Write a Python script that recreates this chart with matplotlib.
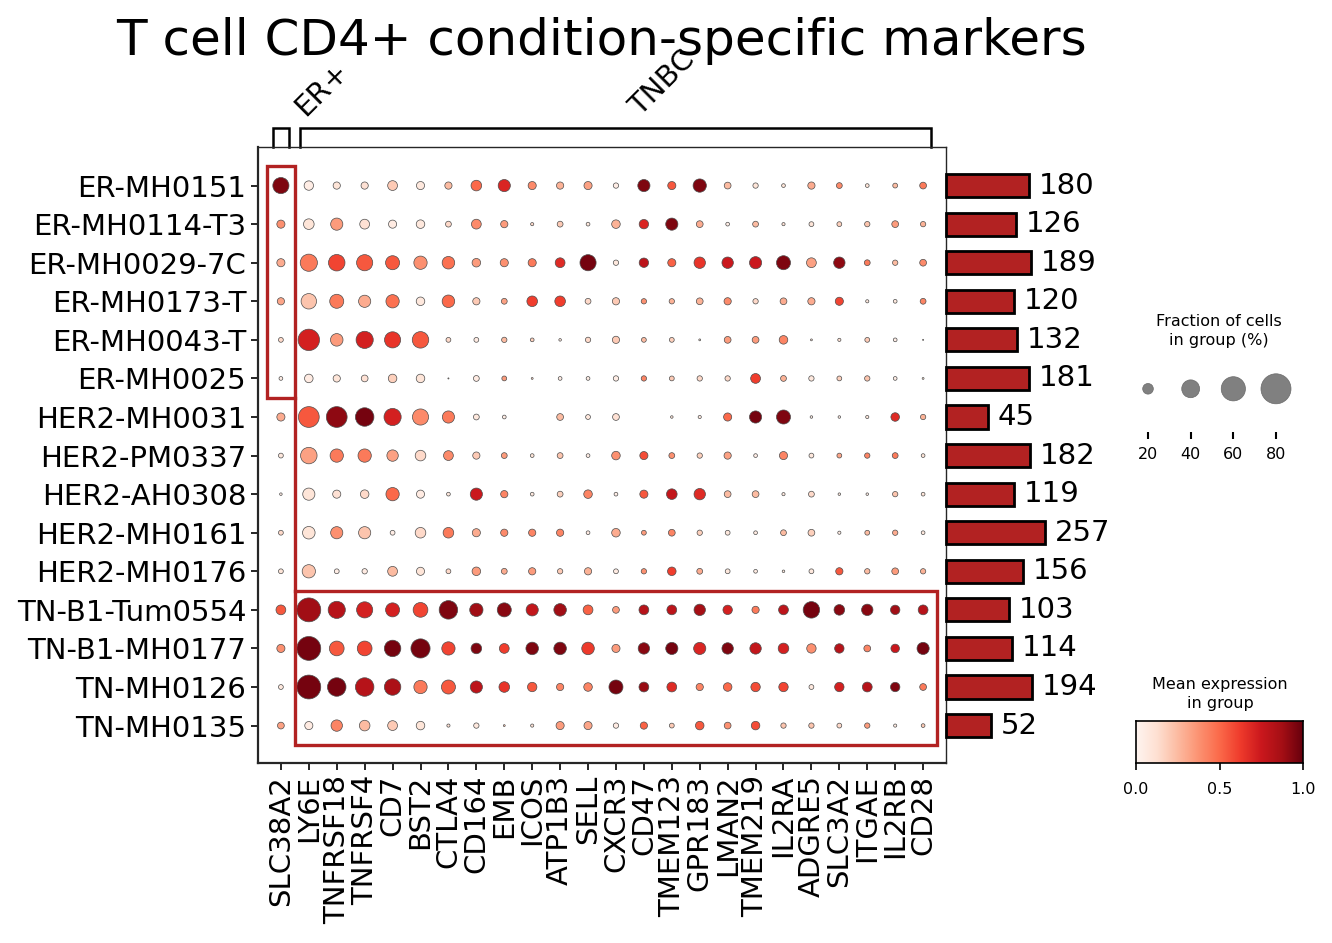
import numpy as np
import matplotlib
matplotlib.use("Agg")
import matplotlib.pyplot as plt
from matplotlib.patches import Rectangle

# ---- data ----
samples = ["ER-MH0151", "ER-MH0114-T3", "ER-MH0029-7C", "ER-MH0173-T", "ER-MH0043-T",
           "ER-MH0025", "HER2-MH0031", "HER2-PM0337", "HER2-AH0308", "HER2-MH0161",
           "HER2-MH0176", "TN-B1-Tum0554", "TN-B1-MH0177", "TN-MH0126", "TN-MH0135"]
genes = ["SLC38A2", "LY6E", "TNFRSF18", "TNFRSF4", "CD7", "BST2", "CTLA4", "CD164",
         "EMB", "ICOS", "ATP1B3", "SELL", "CXCR3", "CD47", "TMEM123", "GPR183", "LMAN2",
         "TMEM219", "IL2RA", "ADGRE5", "SLC3A2", "ITGAE", "IL2RB", "CD28"]
group_names = ["ER+", "TNBC"]
group_ranges = [(0, 0), (1, 23)]
cell_counts = [180, 126, 189, 120, 132, 181, 45, 182, 119, 257, 156, 103, 114, 194, 52]

# fraction of cells expressing (%)
frac_pct = [
    [35, 17, 12, 12, 18, 14, 12, 20, 24, 14, 12, 14, 8, 24, 14, 27, 11, 8, 5, 12, 9, 5, 7, 11],
    [14, 20, 24, 18, 14, 15, 9, 18, 12, 4, 9, 5, 15, 17, 24, 11, 5, 9, 4, 7, 7, 8, 11, 8],
    [14, 38, 36, 35, 29, 27, 25, 15, 14, 14, 18, 35, 8, 17, 14, 22, 22, 24, 29, 18, 22, 9, 8, 11],
    [12, 33, 29, 24, 27, 15, 25, 12, 9, 20, 20, 9, 12, 8, 8, 11, 12, 8, 11, 12, 14, 4, 5, 9],
    [7, 51, 25, 38, 35, 36, 7, 7, 8, 5, 3, 8, 12, 7, 7, 2, 11, 11, 15, 2, 4, 7, 5, 1],
    [5, 15, 12, 11, 15, 15, 1, 9, 7, 2, 5, 5, 8, 8, 7, 8, 8, 18, 9, 8, 7, 8, 5, 2],
    [14, 49, 49, 42, 38, 35, 24, 9, 5, 0, 11, 7, 11, 0, 3, 4, 14, 24, 29, 3, 3, 4, 15, 8],
    [7, 36, 27, 27, 22, 20, 18, 12, 9, 5, 9, 5, 15, 14, 9, 8, 12, 5, 14, 7, 7, 8, 9, 5],
    [3, 24, 14, 15, 27, 14, 5, 24, 12, 5, 9, 15, 5, 14, 20, 22, 11, 11, 4, 9, 3, 3, 8, 5],
    [7, 25, 24, 24, 7, 20, 20, 14, 12, 12, 12, 5, 15, 7, 11, 8, 7, 5, 9, 11, 4, 7, 8, 5],
    [7, 27, 7, 8, 18, 14, 7, 15, 9, 12, 8, 12, 7, 8, 15, 9, 7, 5, 3, 7, 12, 8, 11, 8],
    [18, 59, 38, 35, 29, 31, 42, 27, 29, 24, 25, 18, 11, 18, 18, 22, 17, 12, 18, 36, 20, 22, 17, 18],
    [14, 59, 31, 31, 36, 44, 27, 20, 18, 25, 25, 25, 14, 22, 24, 24, 22, 22, 20, 17, 17, 11, 15, 24],
    [7, 59, 42, 42, 36, 27, 29, 24, 20, 17, 12, 15, 29, 18, 18, 12, 15, 17, 17, 7, 17, 18, 17, 11],
    [11, 14, 22, 20, 18, 15, 4, 8, 2, 4, 14, 14, 8, 12, 7, 15, 11, 15, 8, 8, 7, 8, 4, 5],
]

# scaled mean expression (0-1)
mean_expr = [
    [.95, .05, .10, .12, .20, .08, .25, .50, .70, .40, .28, .33, .05, .95, .55, .95, .25, .10, .10, .30, .40, .10, .25, .45],
    [.38, .10, .35, .12, .06, .08, .15, .40, .35, .15, .20, .08, .28, .70, .95, .30, .05, .25, .12, .10, .18, .22, .35, .28],
    [.30, .45, .60, .55, .55, .38, .48, .35, .38, .45, .68, .97, .08, .80, .52, .65, .75, .75, .95, .33, .92, .45, .25, .40],
    [.32, .22, .45, .30, .48, .08, .50, .20, .33, .62, .62, .15, .20, .38, .28, .28, .40, .15, .30, .30, .60, .08, .08, .42],
    [.15, .72, .35, .72, .65, .55, .15, .06, .25, .18, .08, .15, .20, .25, .18, .10, .35, .35, .42, .10, .12, .20, .05, .10],
    [.05, .06, .10, .12, .18, .10, .20, .06, .35, .15, .05, .05, .05, .42, .20, .15, .15, .62, .28, .08, .18, .22, .05, .10],
    [.30, .55, .92, .97, .72, .40, .45, .08, .05, .00, .25, .08, .12, .00, .10, .06, .50, .97, .95, .05, .05, .08, .68, .28],
    [.08, .33, .45, .45, .33, .15, .40, .20, .35, .10, .22, .05, .38, .58, .38, .18, .33, .05, .42, .08, .32, .42, .45, .10],
    [.05, .10, .12, .15, .50, .06, .08, .75, .42, .08, .18, .42, .05, .55, .78, .68, .25, .25, .08, .15, .08, .05, .22, .10],
    [.15, .10, .38, .22, .05, .15, .45, .30, .40, .42, .42, .06, .30, .35, .42, .18, .08, .06, .25, .18, .06, .25, .30, .08],
    [.10, .22, .05, .06, .25, .10, .15, .35, .30, .35, .20, .28, .06, .38, .62, .30, .08, .06, .08, .08, .55, .25, .35, .28],
    [.55, .88, .82, .72, .72, .60, .95, .88, .93, .78, .88, .52, .35, .82, .80, .87, .72, .45, .80, .97, .93, .93, .88, .82],
    [.38, .97, .55, .60, .97, .97, .60, .95, .62, .95, .95, .63, .35, .93, .97, .70, .95, .78, .72, .38, .82, .42, .76, .97],
    [.08, .97, .97, .82, .85, .45, .55, .80, .65, .55, .42, .42, .97, .90, .68, .42, .50, .58, .60, .08, .72, .82, .95, .45],
    [.33, .06, .42, .25, .20, .10, .12, .08, .20, .12, .35, .32, .06, .52, .20, .55, .38, .58, .22, .22, .15, .35, .06, .20],
]
legend_fracs = [20, 40, 60, 80]

# ---- layout helpers (pixel based) ----
W, H, DPI = 1332, 943, 100
fig = plt.figure(figsize=(W / DPI, H / DPI), dpi=DPI)


def box(l, t, r, b):
    return [l / W, 1 - b / H, (r - l) / W, (b - t) / H]


def dot_size(f):
    # marker area in pt^2; diameter in px scales like frac**0.75
    d_px = 30.0 * (np.asarray(f, dtype=float) / 80.0) ** 0.75
    return (d_px * 72.0 / DPI) ** 2


FS = 21
SMALL = 11.5
RED = "#b22222"

# ---- main dot plot ----
ax = fig.add_axes(box(258, 147, 946, 763))
frac = np.array(frac_pct, dtype=float)
expr = np.array(mean_expr)
yy, xx = np.mgrid[0:len(samples), 0:len(genes)]
mask = frac > 0
ax.scatter(xx[mask], yy[mask], s=dot_size(frac[mask]), c=expr[mask], cmap="Reds",
           vmin=0, vmax=1, edgecolors="0.3", linewidths=0.5, zorder=3)
ax.set_xlim(-0.82, len(genes) - 1 + 0.82)
ax.set_ylim(len(samples) - 1 + 0.97, -1.0)
ax.set_xticks(range(len(genes)))
ax.set_xticklabels(genes, rotation=90, fontsize=FS)
ax.set_yticks(range(len(samples)))
ax.set_yticklabels(samples, fontsize=FS)
ax.tick_params(length=5, width=1.2, pad=3.5)
for sp in ax.spines.values():
    sp.set_color("0.15")
    sp.set_linewidth(1.0)
ax.spines["left"].set_linewidth(1.6)
ax.spines["bottom"].set_linewidth(1.6)

# highlight boxes
ax.add_patch(Rectangle((-0.5, -0.5), 1.0, 6.0, fill=False, ec=RED, lw=2.4, zorder=4))
ax.add_patch(Rectangle((0.5, 10.5), 23.0, 4.0, fill=False, ec=RED, lw=2.4, zorder=4))
ax.plot([0.5, 0.5], [5.5, 10.5], color=RED, lw=2.4, zorder=4)

# gene group brackets
for name, (g0, g1) in zip(group_names, group_ranges):
    bx = [g0 - 0.3, g0 - 0.3, g1 + 0.3, g1 + 0.3]
    by = [-1.0, -1.5, -1.5, -1.0]
    ax.plot(bx, by, color="black", lw=1.8, clip_on=False, solid_joinstyle="miter")
    ax.text((g0 + g1) / 2 + 0.85, -1.78, name, rotation=45, rotation_mode="anchor",
            ha="left", va="baseline", fontsize=FS)

# ---- cell counts bars ----
axb = fig.add_axes(box(946, 147, 1046, 763))
axb.set_xscale("function", functions=(np.sqrt, np.square))
axb.barh(range(len(samples)), cell_counts, height=0.6, color=RED, edgecolor="black",
         lw=2, clip_on=False)
axb.set_xlim(0, 260)
axb.set_ylim(len(samples) - 1 + 0.97, -1.0)
for i, v in enumerate(cell_counts):
    axb.annotate(str(v), (v, i), xytext=(7, 0), textcoords="offset points",
                 va="center", ha="left", fontsize=FS, annotation_clip=False)
axb.axis("off")

# ---- size legend ----
axs = fig.add_axes(box(1126, 360, 1298, 432))
axs.scatter(range(len(legend_fracs)), [0.6] * len(legend_fracs), s=dot_size(legend_fracs),
            color="gray", edgecolors="dimgray", linewidths=0.5)
axs.set_xlim(-0.516, 3.516)
axs.set_ylim(0, 1)
axs.set_xticks(range(len(legend_fracs)))
axs.set_xticklabels([str(v) for v in legend_fracs], fontsize=SMALL)
axs.set_yticks([])
axs.tick_params(axis="x", length=5, width=1.5, pad=6)
for sp in axs.spines.values():
    sp.set_visible(False)
fig.text(1219 / W, 1 - 331 / H, "Fraction of cells\nin group (%)", ha="center",
         va="center", fontsize=SMALL, linespacing=1.35)

# ---- colorbar ----
axc = fig.add_axes(box(1136, 721, 1303, 763))
grad = np.linspace(0, 1, 256).reshape(1, -1)
axc.imshow(grad, aspect="auto", cmap="Reds", extent=[0, 1, 0, 1])
axc.set_xticks([0, 0.5, 1.0])
axc.set_xticklabels(["0.0", "0.5", "1.0"], fontsize=SMALL)
axc.set_yticks([])
axc.tick_params(axis="x", length=5, width=1.2, pad=9)
for sp in axc.spines.values():
    sp.set_linewidth(1.2)
fig.text(1220 / W, 1 - 694 / H, "Mean expression\nin group", ha="center",
         va="center", fontsize=SMALL, linespacing=1.35)

# ---- title ----
fig.text(602 / W, 1 - 55 / H, "T cell CD4+ condition-specific markers", ha="center",
         va="baseline", fontsize=36)

fig.savefig("out.png", dpi=DPI)
